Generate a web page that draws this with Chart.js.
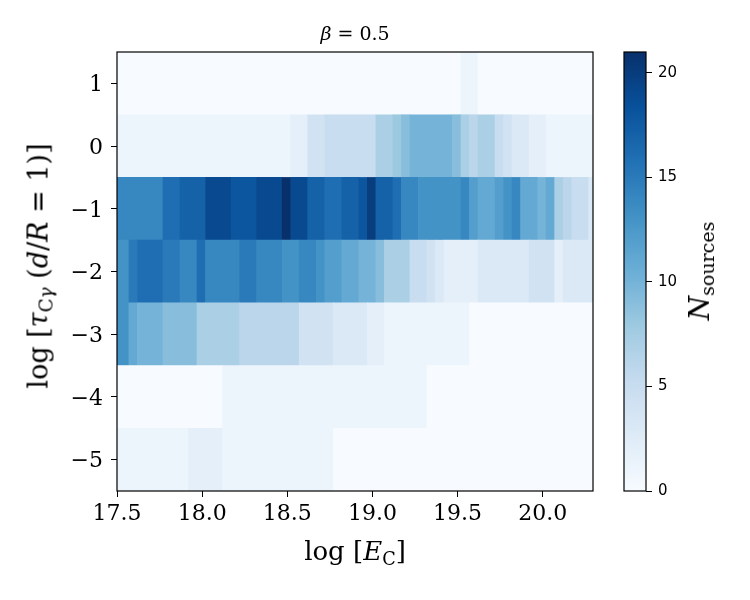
<!DOCTYPE html>
<html>
<head>
<meta charset="utf-8">
<script src="https://cdn.jsdelivr.net/npm/chart.js@4.4.0/dist/chart.umd.min.js"></script>
<style>
  html, body { margin: 0; padding: 0; background: #fff; }
  #wrap { position: relative; width: 750px; height: 600px; overflow: hidden; }
  #wrap canvas { position: absolute; left: 0; top: 0; }
  .lbl { position: absolute; font-family: "DejaVu Serif", serif; color: #000; white-space: nowrap;
         transform: translate(-50%, -50%); line-height: 1; }
  .rot { transform: translate(-50%, -50%) rotate(-90deg); }
  .lbl i { font-style: italic; }
  .lbl sub { font-size: 68%; vertical-align: -0.28em; line-height: 0; }
</style>
</head>
<body>
<div id="wrap">
  <canvas id="heat" width="750" height="600"></canvas>
  <canvas id="cbar" width="750" height="600"></canvas>
  <div class="lbl" style="left:355px; top:33px; font-size:19px;"><i>β</i> = 0.5</div>
  <div class="lbl" style="left:355px; top:551px; font-size:26px;">log [<i>E</i><sub>C</sub>]</div>
  <div class="lbl rot" style="left:38px; top:266px; font-size:27px;">log [<i>τ</i><sub>C<i>γ</i></sub> (<i>d</i>/<i>R</i> = 1)]</div>
  <div class="lbl rot" style="left:700px; top:271px; font-size:28px;"><i>N</i><sub>sources</sub></div>
</div>
<script>
// ---------- Data ----------
// each row: [x start, x end, count] in log E_C units, one row per log tau bin
const rowCenters = [1, 0, -1, -2, -3, -4, -5];

const row1 = [[17.5, 19.52, 0], [19.52, 19.62, 1], [19.62, 20.295, 0]];

const row0 = [
  [17.5, 18.52, 1], [18.52, 18.62, 2], [18.62, 18.72, 4], [18.72, 19.02, 5],
  [19.02, 19.12, 7], [19.12, 19.17, 8], [19.17, 19.22, 9], [19.22, 19.47, 10],
  [19.47, 19.52, 9], [19.52, 19.57, 7], [19.57, 19.62, 6], [19.62, 19.72, 7],
  [19.72, 19.77, 5], [19.77, 19.82, 4], [19.82, 19.92, 3], [19.92, 20.02, 2],
  [20.02, 20.295, 1]
];

const rowM1 = [
  [17.5, 17.77, 14], [17.77, 17.87, 16], [17.87, 18.02, 17], [18.02, 18.17, 19],
  [18.17, 18.32, 18], [18.32, 18.47, 19], [18.47, 18.52, 21], [18.52, 18.62, 19],
  [18.62, 18.72, 17], [18.72, 18.82, 16], [18.82, 18.92, 17], [18.92, 18.97, 18],
  [18.97, 19.02, 20], [19.02, 19.12, 17], [19.12, 19.17, 16], [19.17, 19.27, 14],
  [19.27, 19.52, 13], [19.52, 19.57, 14], [19.57, 19.62, 12], [19.62, 19.72, 11],
  [19.72, 19.77, 12], [19.77, 19.82, 13], [19.82, 19.87, 14], [19.87, 19.97, 11],
  [19.97, 20.02, 10], [20.02, 20.07, 11], [20.07, 20.12, 7], [20.12, 20.17, 6],
  [20.17, 20.27, 5], [20.27, 20.295, 3]
];

const rowM2 = [
  [17.5, 17.57, 13], [17.57, 17.62, 15], [17.62, 17.77, 16], [17.77, 17.87, 15],
  [17.87, 17.97, 14], [17.97, 18.02, 16], [18.02, 18.22, 14], [18.22, 18.32, 15],
  [18.32, 18.47, 14], [18.47, 18.57, 13], [18.57, 18.67, 14], [18.67, 18.72, 13],
  [18.72, 18.82, 12], [18.82, 18.92, 11], [18.92, 19.02, 10], [19.02, 19.07, 9],
  [19.07, 19.22, 7], [19.22, 19.32, 5], [19.32, 19.37, 4], [19.37, 19.42, 3],
  [19.42, 19.62, 2], [19.62, 19.92, 3], [19.92, 20.07, 4], [20.07, 20.12, 2],
  [20.12, 20.295, 3]
];

const rowM3 = [
  [17.5, 17.57, 13], [17.57, 17.62, 11], [17.62, 17.77, 10], [17.77, 17.97, 9],
  [17.97, 18.22, 7], [18.22, 18.57, 6], [18.57, 18.77, 4], [18.77, 18.97, 3],
  [18.97, 19.07, 2], [19.07, 19.57, 1], [19.57, 20.295, 0]
];

const rowM4 = [[17.5, 18.12, 0], [18.12, 19.32, 1], [19.32, 20.295, 0]];

const rowM5 = [[17.5, 17.92, 1], [17.92, 18.12, 2], [18.12, 18.77, 1], [18.77, 20.295, 0]];

const rows = [row1, row0, rowM1, rowM2, rowM3, rowM4, rowM5];

const xTicks = [17.5, 18.0, 18.5, 19.0, 19.5, 20.0];
const yTicks = [1, 0, -1, -2, -3, -4, -5];
const cbTicks = [0, 5, 10, 15, 20];
const COUNT_MAX = 21;

// ---------- Colormap (matplotlib Blues) ----------
const BLUES = [
  [247, 251, 255], [222, 235, 247], [198, 219, 239], [158, 202, 225], [107, 174, 214],
  [66, 146, 198], [33, 113, 181], [8, 81, 156], [8, 48, 107]
];

function rgb(c) {
  return "rgb(" + c.map(Math.round).join(",") + ")";
}

function blues(t) {
  t = Math.max(0, Math.min(1, t));
  const p = t * (BLUES.length - 1);
  const i = Math.min(Math.floor(p), BLUES.length - 2);
  const f = p - i;
  const a = BLUES[i], b = BLUES[i + 1];
  return rgb(a.map((v, k) => v + (b[k] - v) * f));
}

// ---------- Cells ----------
const cells = [];
rows.forEach((segs, r) => {
  segs.forEach(s => cells.push({ x: [s[0], s[1]], y: rowCenters[r], v: s[2] }));
});

// ---------- Shared bits ----------
const frame = {
  id: "frame",
  afterDatasetsDraw(chart) {
    const { ctx, chartArea: a } = chart;
    ctx.save();
    ctx.strokeStyle = "#000";
    ctx.lineWidth = 1.2;
    ctx.strokeRect(a.left, a.top, a.right - a.left, a.bottom - a.top);
    ctx.restore();
  }
};

const tickFont = { family: "DejaVu Serif", size: 22 };
const tickGrid = { drawOnChartArea: false, color: "#000", tickLength: 6, lineWidth: 1, offset: false };

function minus(v) {
  return v < 0 ? "\u2212" + Math.abs(v) : String(v);
}

// ---------- Heatmap ----------
new Chart(document.getElementById("heat"), {
  type: "bar",
  data: {
    datasets: [{
      data: cells,
      backgroundColor: ctx => blues(ctx.raw.v / COUNT_MAX),
      borderWidth: 0,
      barPercentage: 1,
      categoryPercentage: 1
    }]
  },
  options: {
    indexAxis: "y",
    responsive: false,
    animation: false,
    events: [],
    layout: { padding: { top: 52, right: 157, left: 0, bottom: 0 } },
    plugins: { legend: { display: false }, tooltip: { enabled: false } },
    scales: {
      x: {
        type: "linear",
        min: 17.5,
        max: 20.295,
        afterFit: s => { s.height = 109; },
        afterBuildTicks: s => { s.ticks = xTicks.map(v => ({ value: v })); },
        grid: tickGrid,
        border: { display: false },
        ticks: { font: tickFont, color: "#000", padding: 4, autoSkip: false, maxRotation: 0,
                 callback: v => v.toFixed(1) }
      },
      y: {
        type: "linear",
        min: -5.5,
        max: 1.5,
        offset: false,
        afterFit: s => { s.width = 117; },
        afterBuildTicks: s => { s.ticks = yTicks.map(v => ({ value: v })); },
        grid: tickGrid,
        border: { display: false },
        ticks: { font: tickFont, color: "#000", padding: 8, labelOffset: 2, autoSkip: false, callback: minus }
      }
    }
  },
  plugins: [frame]
});

// ---------- Colorbar ----------
new Chart(document.getElementById("cbar"), {
  type: "bar",
  data: {
    labels: ["N"],
    datasets: [{
      data: [[0, COUNT_MAX]],
      backgroundColor: ctx => {
        const a = ctx.chart.chartArea;
        if (!a) return null;
        const g = ctx.chart.ctx.createLinearGradient(0, a.bottom, 0, a.top);
        BLUES.forEach((c, i) => g.addColorStop(i / (BLUES.length - 1), rgb(c)));
        return g;
      },
      borderWidth: 0,
      barPercentage: 1,
      categoryPercentage: 1
    }]
  },
  options: {
    responsive: false,
    animation: false,
    events: [],
    layout: { padding: { left: 624, top: 52, bottom: 109, right: 0 } },
    plugins: { legend: { display: false }, tooltip: { enabled: false } },
    scales: {
      x: { display: false },
      y: {
        position: "right",
        min: 0,
        max: COUNT_MAX,
        afterFit: s => { s.width = 104; },
        afterBuildTicks: s => { s.ticks = cbTicks.map(v => ({ value: v })); },
        grid: tickGrid,
        border: { display: false },
        ticks: { font: { family: "DejaVu Sans", size: 15 }, color: "#000", padding: 6, autoSkip: false }
      }
    }
  },
  plugins: [frame]
});
</script>
</body>
</html>
